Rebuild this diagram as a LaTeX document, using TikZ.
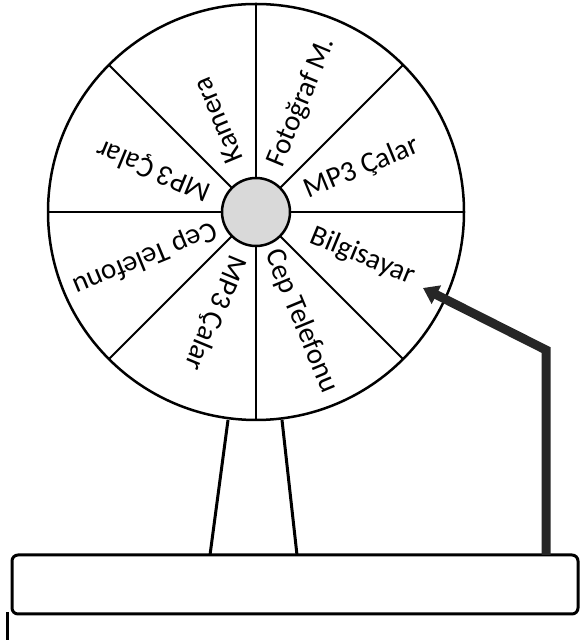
\documentclass[tikz,border=0pt]{standalone}
\usepackage{fontspec}
\setmainfont{Carlito}
\usepackage{tikz}
\usetikzlibrary{calc,arrows.meta}

\begin{document}
\begin{tikzpicture}[x=1pt,y=1pt,
		rim/.style={line width=2.5pt},
		spoke/.style={line width=2pt},
		lbl/.style={anchor=west,inner sep=0pt,font=\fontsize{29}{32}\selectfont}]
			\def\R{208}
			\def\h{34}
			\useasboundingbox (0,0) rectangle (580,644);
			
			\coordinate (O) at (256,432);
			\coordinate (LT) at (228,224);
			\coordinate (RT) at (282,224);
			\coordinate (LB) at (210,89);
			\coordinate (RB) at (297,89);
			
			% legs and base
			\draw[line width=3pt] (LT)--(LB);
			\draw[line width=3pt] (RT)--(RB);
			\draw[line width=3pt,rounded corners=6pt] (12,30) rectangle (578,89);
			\draw[line width=3pt] (7,4)--(7,32);
			
			% wheel
			\draw[rim,fill=white] (O) circle (\R pt);
			\draw[spoke] ($(O)+(0:\R)$)--($(O)+(180:\R)$);
			\draw[spoke] ($(O)+(90:\R)$)--($(O)+(270:\R)$);
			\draw[spoke] ($(O)+(45:\R)$)--($(O)+(225:\R)$);
			\draw[spoke] ($(O)+(135:\R)$)--($(O)+(315:\R)$);
			\draw[rim,fill=black!15] (O) circle (\h pt);
			
			% prizes
			\node[lbl,rotate=67.5] (foto) at ($(O)+(67.5:50)$) {Fotoğraf M.};
			\node[lbl,rotate=22.5] (mpA) at ($(O)+(22.5:54)$) {MP3 Çalar};
			\node[lbl,rotate=-22.5] (pc) at ($(O)+(-22.5:60)$) {Bilgisayar};
			\node[lbl,rotate=-67.5] (cepA) at ($(O)+(-67.5:42)$) {Cep Telefonu};
			\node[lbl,rotate=-112.5] (mpB) at ($(O)+(-112.5:48)$) {MP3 Çalar};
			\node[lbl,rotate=-157.5] (cepB) at ($(O)+(-157.5:44)$) {Cep Telefonu};
			\node[lbl,rotate=157.5] (mpC) at ($(O)+(157.5:50)$) {MP3 Çalar};
			\node[lbl,rotate=112.5] (kam) at ($(O)+(112.5:54)$) {Kamera};
			
			% pointer
			\coordinate (P0) at (546,89);
			\coordinate (P1) at (546,294);
			\coordinate (P2) at (423,356);
			\draw[black!85,line width=9pt,-{Triangle[length=15pt,width=20pt]}] (P0)--(P1)--(P2);
		\end{tikzpicture}
\end{document}
